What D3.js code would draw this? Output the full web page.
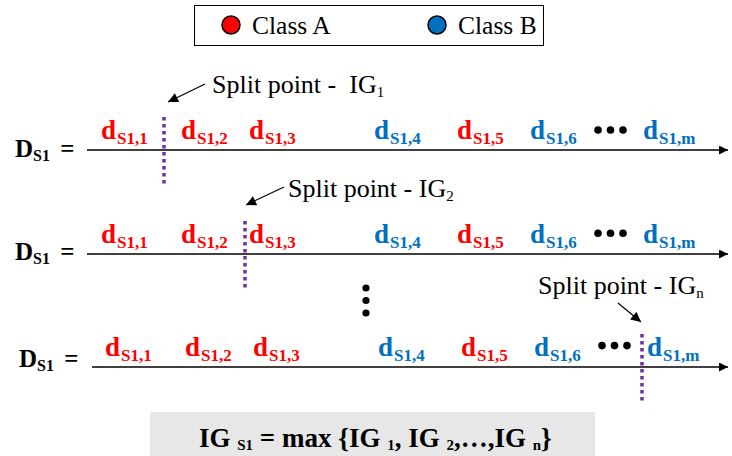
<!DOCTYPE html>
<html>
<head>
<meta charset="utf-8">
<script src="https://cdn.jsdelivr.net/npm/d3@7"></script>
<style>
  body { margin: 0; background: #fff; }
</style>
</head>
<body>
<script>
// data
var classNames = ["Class A", "Class B"];
var classColors = ["#ff0000", "#0070c0"];
var elementIds = ["1", "2", "3", "4", "5", "6", "m"];
var elementClass = ["Class A", "Class A", "Class A", "Class B", "Class A", "Class B", "Class B"];
var splitIds = ["1", "2", "n"];
var summaryTerms = ["1", "2", "n"];

var svgWidth = 732, svgHeight = 456;
var svg = d3.select("body").append("svg")
    .attr("width", svgWidth)
    .attr("height", svgHeight)
    .attr("font-family", "'Liberation Serif', 'Times New Roman', 'DejaVu Serif', serif");

var color = d3.scaleOrdinal().domain(classNames).range(classColors);

// layout of one row (x offsets of labels)
var xLabel = d3.scaleOrdinal()
    .domain(elementIds)
    .range([101, 181, 249, 374, 457, 530, 643]);
var rows = [
  {y: 150, dx: 0, splitX: 164, lineStart: 87, labelX: 15, labelY: 157},
  {y: 254, dx: 0, splitX: 245, lineStart: 87, labelX: 15, labelY: 260},
  {y: 367, dx: 4, splitX: 642, lineStart: 92, labelX: 19, labelY: 367}
];

var defs = svg.append("defs");
["axisArrow", "noteArrow"].forEach(function(id) {
  defs.append("marker")
      .attr("id", id)
      .attr("viewBox", "0 0 10 10")
      .attr("refX", 10).attr("refY", 5)
      .attr("markerWidth", id === "axisArrow" ? 12 : 13)
      .attr("markerHeight", id === "axisArrow" ? 9 : 10)
      .attr("markerUnits", "userSpaceOnUse")
      .attr("orient", "auto")
    .append("path").attr("d", "M0,0L10,5L0,10Z").attr("fill", "#000");
});

// legend
var legend = svg.append("g");
legend.append("rect")
    .attr("x", 194.5).attr("y", 5.5)
    .attr("width", 349).attr("height", 40)
    .attr("fill", "#fff").attr("stroke", "#000").attr("stroke-width", 1);
var legendX = d3.scaleOrdinal().domain(classNames).range([231, 437]);
var li = legend.selectAll("g.item")
    .data(classNames)
    .enter().append("g").attr("class", "item")
    .attr("transform", function(d) { return "translate(" + legendX(d) + ",25)"; });
li.append("circle")
    .attr("r", 9)
    .attr("fill", function(d) { return color(d); })
    .attr("stroke", "#000").attr("stroke-width", 1.5);
li.append("text")
    .attr("x", 21).attr("y", 9)
    .attr("font-size", 25.5)
    .text(function(d) { return d; });

// rows
rows.forEach(function(r, ri) {
  var lbl = svg.append("text")
      .attr("x", r.labelX).attr("y", r.labelY)
      .attr("font-size", 25).attr("font-weight", "bold")
      .attr("xml:space", "preserve");
  lbl.append("tspan").text("D");
  lbl.append("tspan").attr("font-size", 16).attr("dy", 4).text("S1");
  lbl.append("tspan").attr("dy", -4).attr("dx", 4).text(" =");

  svg.append("line")
      .attr("x1", r.lineStart).attr("x2", 728)
      .attr("y1", r.y).attr("y2", r.y)
      .attr("stroke", "#000").attr("stroke-width", 1.6)
      .attr("marker-end", "url(#axisArrow)");

  var g = svg.append("g").attr("transform", "translate(" + r.dx + ",0)");
  var el = g.selectAll("text.el")
      .data(elementIds)
      .enter().append("text").attr("class", "el")
      .attr("x", function(d) { return xLabel(d); })
      .attr("y", r.y - 11)
      .attr("font-size", 27).attr("font-weight", "bold")
      .attr("fill", function(d, i) { return color(elementClass[i]); });
  el.append("tspan").text("d");
  el.append("tspan").attr("font-size", 17).attr("dy", 5).attr("dx", 1)
      .text(function(d) { return "S1," + d; });

  // horizontal ellipsis
  g.selectAll("circle.dot")
      .data([0, 1, 2])
      .enter().append("circle").attr("class", "dot")
      .attr("cx", function(d) { return 598 + d * 12.5; })
      .attr("cy", r.y - 20 - ri * 0.7)
      .attr("r", 3.8).attr("fill", "#000");
});

// split lines and notes
var notes = [
  {x1: 205, y1: 84, x2: 168, y2: 102, tx: 212, ty: 93, text: "Split point -  IG"},
  {x1: 284, y1: 187, x2: 246, y2: 205, tx: 288, ty: 197, text: "Split point - IG"},
  {x1: 618, y1: 303, x2: 641, y2: 322, tx: 538, ty: 294, text: "Split point - IG"}
];
rows.forEach(function(r, ri) {
  svg.append("line")
      .attr("x1", r.splitX).attr("x2", r.splitX)
      .attr("y1", r.y - 33).attr("y2", r.y + 34)
      .attr("stroke", "#7030a0").attr("stroke-width", 3.5)
      .attr("stroke-dasharray", "3.5,3.5");
  var n = notes[ri];
  svg.append("line")
      .attr("x1", n.x1).attr("y1", n.y1).attr("x2", n.x2).attr("y2", n.y2)
      .attr("stroke", "#000").attr("stroke-width", 1.2)
      .attr("marker-end", "url(#noteArrow)");
  var t = svg.append("text")
      .attr("x", n.tx).attr("y", n.ty)
      .attr("font-size", 26)
      .attr("xml:space", "preserve");
  t.append("tspan").text(n.text);
  t.append("tspan").attr("font-size", 15).attr("dy", 4).text(splitIds[ri]);
});

// vertical ellipsis
svg.selectAll("circle.vdot")
    .data([0, 1, 2])
    .enter().append("circle").attr("class", "vdot")
    .attr("cx", 366)
    .attr("cy", function(d) { return 288 + d * 12.5; })
    .attr("r", 3.6).attr("fill", "#000");

// summary box
svg.append("rect")
    .attr("x", 150).attr("y", 412)
    .attr("width", 445).attr("height", 44)
    .attr("fill", "#e7e7e7");
var s = svg.append("text")
    .attr("x", 199).attr("y", 447)
    .attr("font-size", 27).attr("font-weight", "bold")
    .attr("xml:space", "preserve");
s.append("tspan").text("IG ");
s.append("tspan").attr("font-size", 15).attr("dy", 3).text("S1");
s.append("tspan").attr("dy", -3).text(" = max {");
var seps = ["", ", ", ",…,"];
summaryTerms.forEach(function(d, i) {
  s.append("tspan").attr("dy", i === 0 ? 0 : -3).text(seps[i] + "IG ");
  s.append("tspan").attr("font-size", 15).attr("dy", 3).text(d);
});
s.append("tspan").attr("dy", -3).text("}");
</script>
</body>
</html>
